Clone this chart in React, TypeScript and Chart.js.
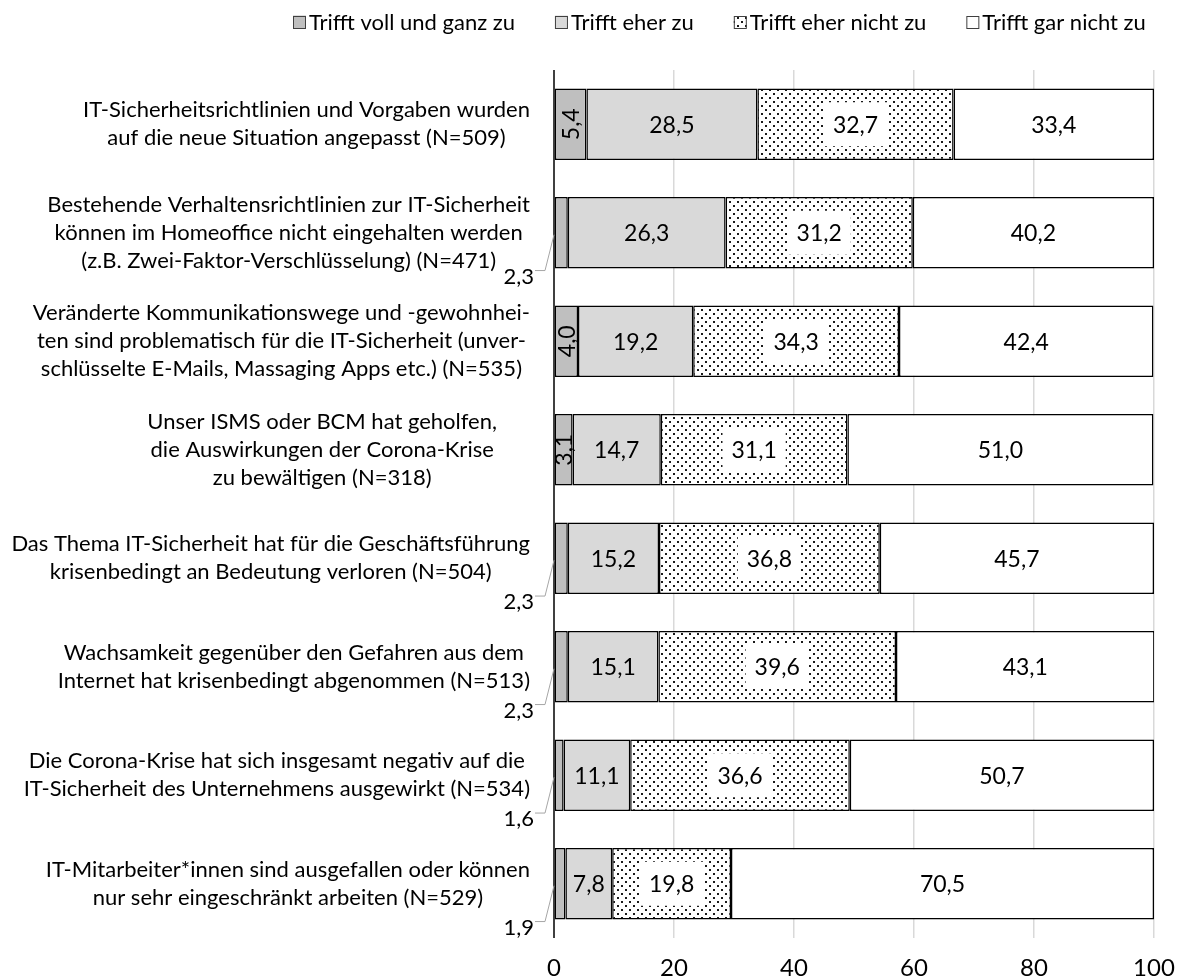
import React, { useEffect, useRef } from "react";
import { Chart, registerables } from "chart.js";

Chart.register(...registerables);

const categories: string[][] = [
  ["IT-Sicherheitsrichtlinien und Vorgaben wurden", "auf die neue Situation angepasst (N=509)"],
  ["Bestehende Verhaltensrichtlinien zur IT-Sicherheit", "können im Homeoffice nicht eingehalten werden", "(z.B. Zwei-Faktor-Verschlüsselung) (N=471)"],
  ["Veränderte Kommunikationswege und -gewohnhei-", "ten sind problematisch für die IT-Sicherheit (unver-", "schlüsselte E-Mails, Massaging Apps etc.) (N=535)"],
  ["Unser ISMS oder BCM hat geholfen,", "die Auswirkungen der Corona-Krise", "zu bewältigen (N=318)"],
  ["Das Thema IT-Sicherheit hat für die Geschäftsführung", "krisenbedingt an Bedeutung verloren (N=504)"],
  ["Wachsamkeit gegenüber den Gefahren aus dem", "Internet hat krisenbedingt abgenommen (N=513)"],
  ["Die Corona-Krise hat sich insgesamt negativ auf die", "IT-Sicherheit des Unternehmens ausgewirkt (N=534)"],
  ["IT-Mitarbeiter*innen sind ausgefallen oder können", "nur sehr eingeschränkt arbeiten (N=529)"],
];

const seriesNames = ["Trifft voll und ganz zu", "Trifft eher zu", "Trifft eher nicht zu", "Trifft gar nicht zu"];

const vollUndGanz = [5.4, 2.3, 4.0, 3.1, 2.3, 2.3, 1.6, 1.9];
const eherZu = [28.5, 26.3, 19.2, 14.7, 15.2, 15.1, 11.1, 7.8];
const eherNicht = [32.7, 31.2, 34.3, 31.1, 36.8, 39.6, 36.6, 19.8];
const garNicht = [33.4, 40.2, 42.4, 51.0, 45.7, 43.1, 50.7, 70.5];

const xMin = 0;
const xMax = 100;
const xStep = 20;

const FONT = "Lato, 'Open Sans', 'DejaVu Sans', sans-serif";
const LABEL_SIZE = 22;
const VALUE_SIZE = 23;
const TICK_SIZE = 24;
const LINE_H = 28;

// layout: how far each category label block sits left of the axis gap (Excel wrap box)
const labelExtraInset = [0, 0, 0, 33, 0, 0, 0, 0];

const fmt = (v: number) => v.toFixed(1).replace(".", ",");

function makeDotPattern(): CanvasPattern | string {
  const c = document.createElement("canvas");
  c.width = 8;
  c.height = 8;
  const g = c.getContext("2d");
  if (!g) return "#fff";
  g.fillStyle = "#ffffff";
  g.fillRect(0, 0, 8, 8);
  g.fillStyle = "#1a1a1a";
  g.fillRect(1, 1, 2, 2);
  g.fillRect(5, 5, 2, 2);
  const main = document.createElement("canvas").getContext("2d");
  const p = main ? main.createPattern(c, "repeat") : null;
  return p || "#fff";
}

const overlayPlugin = {
  id: "overlay",
  afterDatasetsDraw(chart: any) {
    const ctx: CanvasRenderingContext2D = chart.ctx;
    const area = chart.chartArea;
    ctx.save();
    // vertical category axis line
    ctx.strokeStyle = "#000";
    ctx.lineWidth = 1.5;
    ctx.beginPath();
    ctx.moveTo(area.left, area.top);
    ctx.lineTo(area.left, area.bottom);
    ctx.stroke();

    ctx.textBaseline = "middle";
    chart.data.datasets.forEach((ds: any, di: number) => {
      const meta = chart.getDatasetMeta(di);
      meta.data.forEach((bar: any, i: number) => {
        const v = ds.data[i] as number;
        const p = bar.getProps(["x", "y", "base", "height"], true);
        const cx = (p.x + p.base) / 2;
        const text = fmt(v);
        ctx.font = `${VALUE_SIZE}px ${FONT}`;
        ctx.fillStyle = "#000";
        if (di === 0) {
          if (v >= 3) {
            ctx.save();
            ctx.translate(cx, p.y);
            ctx.rotate(-Math.PI / 2);
            ctx.textAlign = "center";
            ctx.fillText(text, 0, 1);
            ctx.restore();
          } else {
            const bottom = p.y + p.height / 2;
            ctx.strokeStyle = "#a6a6a6";
            ctx.lineWidth = 1;
            ctx.beginPath();
            ctx.moveTo(area.left - 19, bottom + 2);
            ctx.lineTo(area.left - 9, bottom + 2);
            ctx.lineTo(area.left, p.y + 2);
            ctx.stroke();
            ctx.font = `${LABEL_SIZE}px ${FONT}`;
            ctx.textAlign = "right";
            ctx.fillText(text, area.left - 20, bottom + 8);
          }
        } else if (di === 2) {
          const w = ctx.measureText(text).width;
          ctx.fillStyle = "#fff";
          ctx.fillRect(cx - w / 2 - 9, p.y - 22, w + 18, 44);
          ctx.fillStyle = "#000";
          ctx.textAlign = "center";
          ctx.fillText(text, cx, p.y + 1);
        } else {
          ctx.textAlign = "center";
          ctx.fillText(text, cx, p.y + 1);
        }
      });
    });
    ctx.restore();
  },
  afterDraw(chart: any) {
    const ctx: CanvasRenderingContext2D = chart.ctx;
    const area = chart.chartArea;
    const yScale = chart.scales.y;
    ctx.save();
    ctx.fillStyle = "#000";
    ctx.textBaseline = "middle";
    ctx.font = `${LABEL_SIZE}px ${FONT}`;
    // category labels: centered lines, block right-aligned to axis
    categories.forEach((lines, i) => {
      const yc = yScale.getPixelForValue(i);
      const widest = Math.max(...lines.map((l) => ctx.measureText(l).width));
      const right = area.left - 24 - (labelExtraInset[i] || 0);
      const xc = right - widest / 2;
      ctx.textAlign = "center";
      lines.forEach((l, j) => {
        ctx.fillText(l, xc, yc + (j - (lines.length - 1) / 2) * LINE_H);
      });
    });

    // legend
    const fills = chart.data.datasets.map((d: any) => d.backgroundColor);
    const box = 13;
    const gapBoxText = 3;
    const gapItems = 40;
    const widths = seriesNames.map((n) => ctx.measureText(n).width);
    let total = 0;
    widths.forEach((w, k) => {
      total += box + gapBoxText + w + (k < widths.length - 1 ? gapItems : 0);
    });
    let x = Math.round(1146 - total);
    const ly = 22;
    seriesNames.forEach((n, k) => {
      ctx.fillStyle = fills[k];
      ctx.fillRect(x, ly - box / 2, box, box);
      ctx.strokeStyle = "#404040";
      ctx.lineWidth = 1;
      ctx.strokeRect(x + 0.5, Math.round(ly - box / 2) + 0.5, box - 1, box - 1);
      ctx.fillStyle = "#000";
      ctx.textAlign = "left";
      ctx.fillText(n, x + box + gapBoxText, ly + 1);
      x += box + gapBoxText + widths[k] + gapItems;
    });
    ctx.restore();
  },
};

export default function App() {
  const ref = useRef<HTMLCanvasElement | null>(null);
  useEffect(() => {
    if (!ref.current) return;
    const dots = makeDotPattern();
    const chart = new Chart(ref.current, {
      type: "bar",
      data: {
        labels: categories.map((c) => c.join(" ")),
        datasets: [
          { label: seriesNames[0], data: vollUndGanz, backgroundColor: "#bfbfbf" },
          { label: seriesNames[1], data: eherZu, backgroundColor: "#d9d9d9" },
          { label: seriesNames[2], data: eherNicht, backgroundColor: dots as any },
          { label: seriesNames[3], data: garNicht, backgroundColor: "#ffffff" },
        ].map((d) => ({
          ...d,
          borderColor: "#000",
          borderWidth: 1.5,
          borderSkipped: false,
          barPercentage: 0.66,
          categoryPercentage: 1,
        })),
      },
      options: {
        indexAxis: "y",
        responsive: false,
        animation: false,
        layout: { padding: { left: 554, right: 26, top: 70, bottom: 0 } },
        plugins: {
          legend: { display: false },
          tooltip: { enabled: false },
        },
        scales: {
          x: {
            stacked: true,
            min: xMin,
            max: xMax,
            ticks: {
              stepSize: xStep,
              color: "#000",
              padding: 16,
              maxRotation: 0,
              font: { family: FONT, size: TICK_SIZE },
            },
            grid: {
              color: (c: any) => (c.tick && c.tick.value === 0 ? "rgba(0,0,0,0)" : "#d9d9d9"),
              lineWidth: 1.5,
              drawTicks: false,
            },
            border: { display: false },
            afterFit: (scale: any) => {
              scale.height = 40;
              scale.paddingLeft = 0;
              scale.paddingRight = 0;
            },
          },
          y: {
            stacked: true,
            ticks: { display: false },
            grid: { display: false, drawTicks: false },
            border: { display: false },
          },
        },
      },
      plugins: [overlayPlugin],
    } as any);
    return () => chart.destroy();
  }, []);
  return (
    <div style={{ position: "fixed", left: 0, top: 0, width: 1180, height: 978, background: "#fff" }}>
      <canvas ref={ref} width={1180} height={978} />
    </div>
  );
}
